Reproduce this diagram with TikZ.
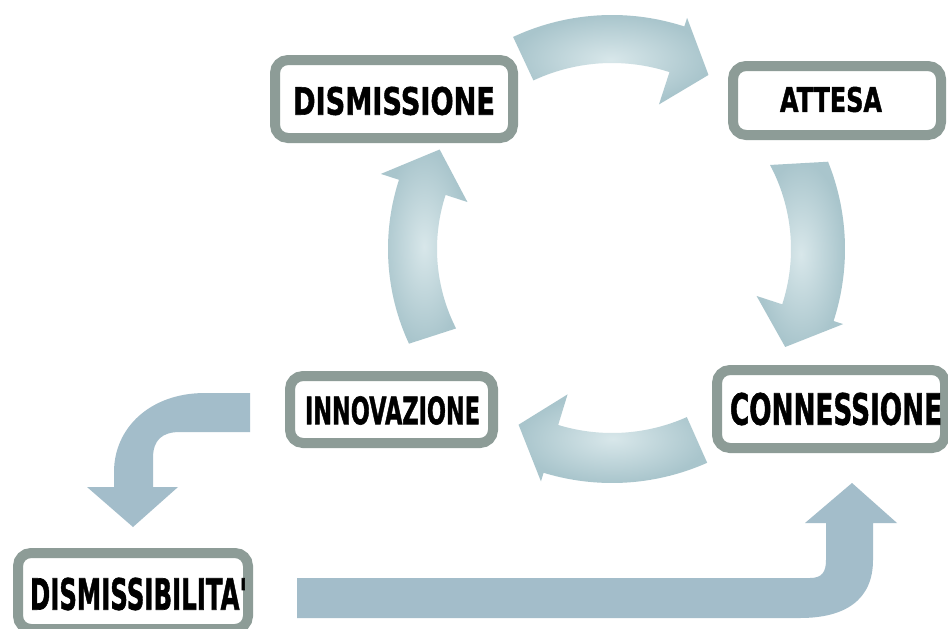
\documentclass[tikz,border=0pt]{standalone}
\usepackage{fontspec}
\setmainfont{Liberation Sans}
\newfontfamily\labfont{DejaVu Sans}
\usepackage{graphicx}
\definecolor{boxgray}{HTML}{8D9C97}
\definecolor{flatarrow}{HTML}{A3BDCA}
\definecolor{cycdark}{HTML}{A9C5CC}
\definecolor{cyclight}{HTML}{D8E7EA}
\newcommand\labtxt[3]{\resizebox{#1pt}{#2pt}{\labfont\bfseries\addfontfeature{FakeBold=1.5}#3}}
% args: tail outer angle, tail inner angle, head base angle, tip angle, inner radius, outer radius
\newcommand\cycarrow[6]{%
 \shade[cycst] plot[domain=#1:#3,samples=40] ({612+#6*cos(\x)},{249-#6*sin(\x)})
  -- ({612+243*cos(#3)},{249-243*sin(#3)})
  -- ({612+199*cos(#4)},{249-199*sin(#4)})
  -- ({612+152*cos(#3)},{249-152*sin(#3)})
  -- plot[domain=#3:#2,samples=40] ({612+#5*cos(\x)},{249-#5*sin(\x)})
  -- cycle;}
\tikzset{
  boxst/.style={draw=boxgray, line width=10pt, rounded corners=13pt, fill=white, inner sep=0pt},
  labst/.style={inner sep=0pt, text=black},
  cycst/.style={inner color=cyclight, outer color=cycdark},
  flatst/.style={fill=flatarrow}
}
\begin{document}
\begin{tikzpicture}[x=1pt,y=-1pt]
\useasboundingbox[fill=white] (0,0) rectangle (948,629);

% cycle arrows
\cycarrow{115}{115}{72}{61}{186}{234}
\cycarrow{22}{28}{-18}{-29.5}{179}{233}
\cycarrow{-66}{-66}{-107}{-118}{184}{234}
\cycarrow{205}{207}{162}{150}{175}{224}

% boxes
\node[boxst, minimum width=238pt, minimum height=78pt] (dism) at (394,99) {};
\node[boxst, minimum width=208pt, minimum height=69pt] (att) at (837,100.5) {};
\node[boxst, minimum width=203pt, minimum height=67pt] (inno) at (391.5,409.5) {};
\node[boxst, minimum width=228pt, minimum height=78pt] (conn) at (831,409) {};
\node[boxst, minimum width=230pt, minimum height=76pt] (dbil) at (133,591) {};

% labels
\node[labst] (dism-t) at (394,101) {\labtxt{202}{28}{DISMISSIONE}};
\node[labst] (att-t) at (831,99.5) {\labtxt{102}{25}{ATTESA}};
\node[labst] (inno-t) at (392.5,410.5) {\labtxt{175}{28}{INNOVAZIONE}};
\node[labst] (conn-t) at (836,409) {\labtxt{212}{32}{CONNESSIONE}};
\node[labst] (dbil-t) at (138.5,594) {\labtxt{217}{32}{DISMISSIBILITA'}};

% flat arrows
\fill[flatst] (250,393) -- (205,393) .. controls (150,393) and (114,428) .. (114,472)
  -- (114,487) -- (87,487) -- (133,527) -- (178,487) -- (153,487) -- (153,458)
  .. controls (153,440) and (162,432) .. (180,432) -- (250,432) -- cycle;
\fill[flatst] (297,578) -- (810,578) .. controls (822,578) and (826,572) .. (826,560)
  -- (826,523) -- (805,523) -- (852,483) -- (897,523) -- (873,523) -- (873,560)
  .. controls (873,600) and (845,618) .. (800,618) -- (297,618) -- cycle;
\end{tikzpicture}
\end{document}
